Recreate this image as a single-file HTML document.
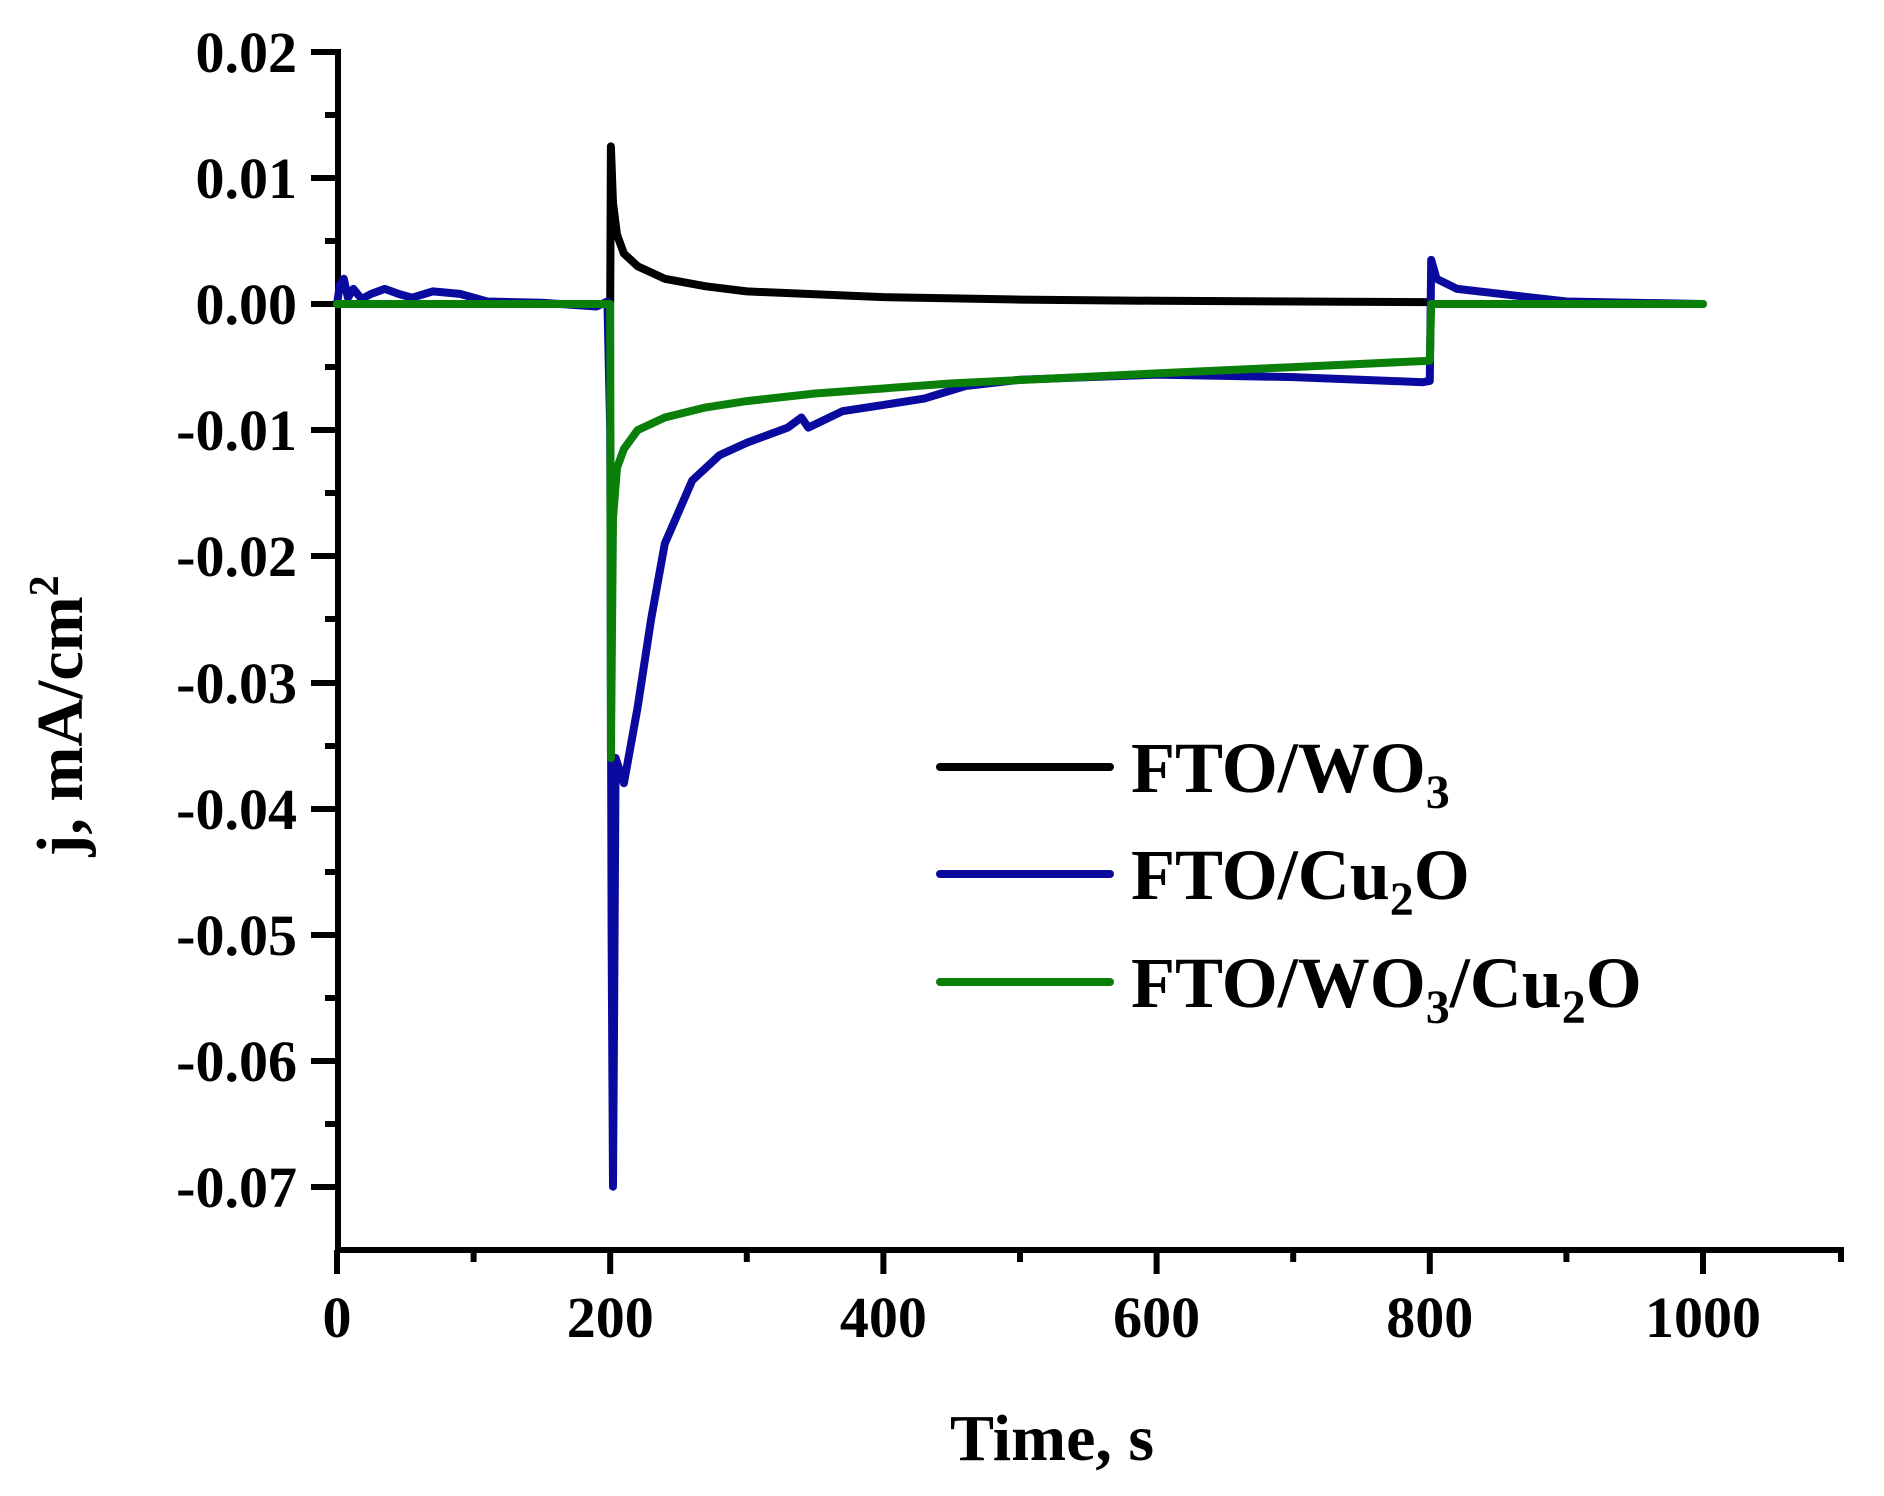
<!DOCTYPE html>
<html><head><meta charset="utf-8"><style>
html,body{margin:0;padding:0;background:#fff;}
svg text{font-family:"Liberation Serif",serif;font-weight:bold;fill:#000;}
</style></head><body>
<svg width="1884" height="1491" viewBox="0 0 1884 1491" xmlns="http://www.w3.org/2000/svg">
<g stroke="#000" stroke-width="6" fill="none">
<line x1="338" y1="49" x2="338" y2="1253"/>
<line x1="335" y1="1250" x2="1844" y2="1250"/>
<path d="M311 52H338M311 178H338M311 304H338M311 430H338M311 556H338M311 683H338M311 809H338M311 935H338M311 1061H338M311 1187H338"/>
<path d="M325 115H338M325 241H338M325 367H338M325 493H338M325 619H338M325 746H338M325 872H338M325 998H338M325 1124H338" />
<path d="M337 1250V1274M610.2 1250V1274M883.4 1250V1274M1156.6 1250V1274M1429.8 1250V1274M1703 1250V1274"/>
<path d="M473.6 1250V1262M746.8 1250V1262M1020 1250V1262M1293.2 1250V1262M1566.4 1250V1262M1841 1250V1262"/>
</g>
<g font-size="58" text-anchor="end">
<text x="297" y="72">0.02</text>
<text x="297" y="198">0.01</text>
<text x="297" y="324">0.00</text>
<text x="297" y="450">-0.01</text>
<text x="297" y="576">-0.02</text>
<text x="297" y="703">-0.03</text>
<text x="297" y="829">-0.04</text>
<text x="297" y="955">-0.05</text>
<text x="297" y="1081">-0.06</text>
<text x="297" y="1207">-0.07</text>
</g>
<g font-size="58" text-anchor="middle">
<text x="337" y="1337">0</text>
<text x="610.2" y="1337">200</text>
<text x="883.4" y="1337">400</text>
<text x="1156.6" y="1337">600</text>
<text x="1429.8" y="1337">800</text>
<text x="1703" y="1337">1000</text>
</g>
<text x="1052" y="1460" font-size="66" text-anchor="middle">Time, s</text>
<text transform="translate(82,716) rotate(-90)" font-size="66" text-anchor="middle">j, mA/cm<tspan font-size="42" dy="-24">2</tspan></text>

<g fill="none" stroke-width="8" stroke-linejoin="round" stroke-linecap="round">
<polyline stroke="#000" points="337,304 610.2,304 610.9,146.4 613,203 617,234.6 623.9,253.6 637.6,266.2 664.8,278.8 705.8,286.3 746.8,291.4 883.4,297.1 1020,299.6 1156.6,300.8 1429.8,302.1 1431.2,304 1703,304"/>
<polyline stroke="#0a0a9e" points="337,304 339.8,285.1 343.8,278.8 347.9,297.7 353.4,288.9 361.6,299 371.2,293.9 384.8,288.9 398.5,293.9 412.1,297.7 432.7,291.4 460,293.9 487.3,301.5 541.9,302.7 596.5,306.5 607.4,301.5 610.2,430.1 611.6,934.5 613,1186.7 614.2,997.6 615.6,758 623.9,783.2 637.6,707.5 651.1,619.3 664.8,543.6 678.5,512.1 692.2,480.5 719.4,455.3 746.8,442.7 787.7,427.6 801.4,417.5 808.3,427.6 842.5,411.2 883.4,404.9 924.3,398.6 965.4,386 1020,379.7 1156.6,374.6 1293.2,377.1 1422.9,382.2 1429.8,380.9 1431.2,259.9 1436.6,278.8 1457.1,288.9 1511.8,295.2 1566.4,301.5 1703,304"/>
<polyline stroke="#0a800a" points="337,304 610.2,304 610.9,758 613,518.4 617,467.9 623.9,449 637.6,430.1 664.8,417.5 705.8,407.4 746.8,401.1 815.1,393.5 951.7,383.4 1156.6,373.4 1293.2,367.1 1429.8,360.7 1431.2,304 1703,304"/>
</g>
<g stroke-width="8" stroke-linecap="round">
<line x1="940" y1="767" x2="1110" y2="767" stroke="#000"/>
<line x1="940" y1="874" x2="1110" y2="874" stroke="#0a0a9e"/>
<line x1="940" y1="982" x2="1110" y2="982" stroke="#0a800a"/>
</g>
<g font-size="72">
<text x="1131" y="792">FTO/WO<tspan font-size="48" dy="16">3</tspan></text>
<text x="1131" y="899">FTO/Cu<tspan font-size="48" dy="16">2</tspan><tspan dy="-16">O</tspan></text>
<text x="1131" y="1007">FTO/WO<tspan font-size="48" dy="16">3</tspan><tspan dy="-16">/Cu</tspan><tspan font-size="48" dy="16">2</tspan><tspan dy="-16">O</tspan></text>
</g>
</svg>
</body></html>
